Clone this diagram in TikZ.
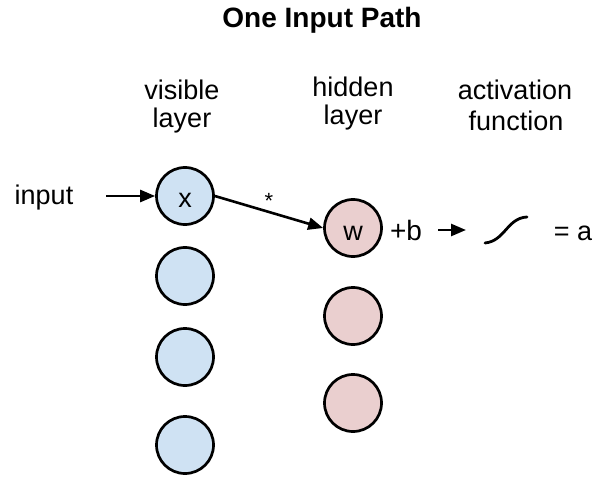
\documentclass[tikz,border=0pt]{standalone}
\usepackage{fontspec}
\setmainfont{Liberation Sans}
\usetikzlibrary{arrows.meta}
\definecolor{vis}{HTML}{CFE2F3}
\definecolor{hid}{HTML}{EACFCF}
\begin{document}
\begin{tikzpicture}[x=1bp,y=-1bp,
  neuron/.style={circle,draw=black,line width=2.7bp,minimum size=57bp,inner sep=0,
    font=\fontsize{27bp}{28bp}\selectfont,text height=25bp,text depth=1bp},
  vnode/.style={neuron,fill=vis},
  hnode/.style={neuron,fill=hid},
  lbl/.style={font=\fontsize{27bp}{28bp}\selectfont,anchor=base,inner sep=0},
  arr/.style={line width=2.6bp,-{Triangle[length=15bp,width=12bp]}}]
\useasboundingbox (0,0) rectangle (595,477);
% title
\node[lbl,font=\fontsize{28bp}{30bp}\selectfont\bfseries] (title) at (322,28) {One Input Path};
% column headers
\node[lbl] (vis1) at (182,100) {visible};
\node[lbl] (vis2) at (182,127.5) {layer};
\node[lbl] (hid1) at (353,97) {hidden};
\node[lbl] (hid2) at (353,125) {layer};
\node[lbl] (act1) at (515,100) {activation};
\node[lbl] (act2) at (516,131) {function};
% input
\node[lbl] (input) at (44,205) {input};
% visible layer
\node[vnode] (x) at (185,196) {x};
\node[vnode] (v2) at (185,276) {};
\node[vnode] (v3) at (185,357) {};
\node[vnode] (v4) at (185,445) {};
% hidden layer
\node[hnode] (w) at (353,228) {w};
\node[hnode] (h2) at (353,316) {};
\node[hnode] (h3) at (353,403) {};
% connectors
\coordinate (in0) at (106,196);
\draw[arr] (in0) -- (x);
\draw[arr] (x.east) -- node[anchor=south,inner sep=2bp,font=\fontsize{22bp}{24bp}\selectfont] (star) {*} (w.west);
% bias and activation
\node[lbl,font=\fontsize{28bp}{30bp}\selectfont] (b) at (406,240) {+b};
\coordinate (a0) at (438,230);
\coordinate (a1) at (466,230);
\draw[arr] (a0) -- (a1);
\coordinate (s0) at (485,243);
\coordinate (s1) at (527,217);
\draw[line width=2.8bp,line cap=round] (s0) .. controls (505,241) and (507,218) .. (s1);
\node[lbl] (eqa) at (573,240) {= a};
\end{tikzpicture}
\end{document}
